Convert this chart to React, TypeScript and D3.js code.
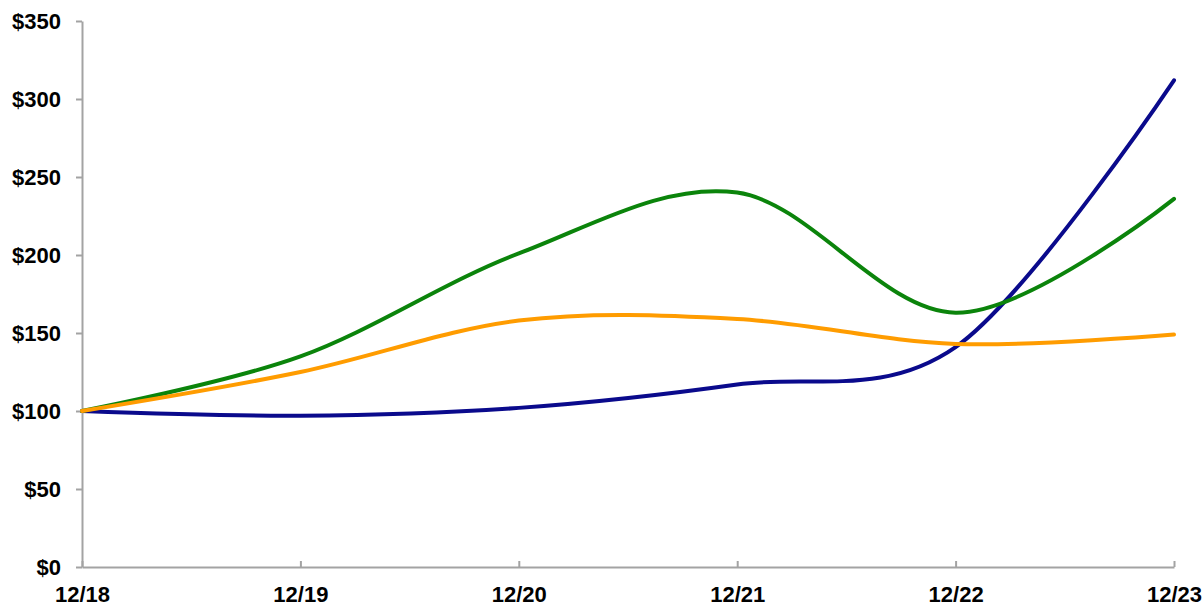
import { useRef, useEffect, useMemo } from "react";
import * as d3 from "d3";

const WIDTH = 1204;
const HEIGHT = 604;
const MARGIN = { top: 21, right: 30, bottom: 37, left: 82 };

const periods = ["12/18", "12/19", "12/20", "12/21", "12/22", "12/23"];
const yTicks = [0, 50, 100, 150, 200, 250, 300, 350];

const blueValues = [100, 97, 102, 117, 141, 312];
const greenValues = [100, 135, 201, 240, 163, 236];
const orangeValues = [100, 125, 158, 159, 143, 149];

const series = [
  { name: "blue", values: blueValues, color: "#0a0a8c" },
  { name: "green", values: greenValues, color: "#0b840b" },
  { name: "orange", values: orangeValues, color: "#ff9c00" },
];

const FONT = "'Liberation Sans', Arial, sans-serif";

const App = () => {
  const xAxisRef = useRef<SVGGElement | null>(null);
  const yAxisRef = useRef<SVGGElement | null>(null);

  const boundsWidth = WIDTH - MARGIN.left - MARGIN.right;
  const boundsHeight = HEIGHT - MARGIN.top - MARGIN.bottom;

  const xScale = useMemo(
    () => d3.scalePoint<string>().domain(periods).range([0, boundsWidth]),
    [boundsWidth]
  );

  const yScale = useMemo(
    () => d3.scaleLinear().domain([0, 350]).range([boundsHeight, 0]),
    [boundsHeight]
  );

  // axes drawn by d3
  useEffect(() => {
    const xg = d3.select(xAxisRef.current);
    xg.selectAll("*").remove();
    xg.call(
      d3.axisBottom(xScale).tickSizeInner(-6).tickSizeOuter(0).tickPadding(19)
    );

    const yg = d3.select(yAxisRef.current);
    yg.selectAll("*").remove();
    yg.call(
      d3
        .axisLeft(yScale)
        .tickValues(yTicks)
        .tickFormat((d) => "$" + d)
        .tickSizeInner(6)
        .tickSizeOuter(0)
        .tickPadding(15)
    );

    [xg, yg].forEach((g) => {
      g.selectAll("path, line").attr("stroke", "#a3a3a3").attr("stroke-width", 2);
      g.selectAll("text")
        .attr("fill", "#000")
        .style("font-family", FONT)
        .style("font-size", "22px")
        .style("font-weight", "bold");
    });
  }, [xScale, yScale]);

  const lineBuilder = d3
    .line<number>()
    .x((_, i) => xScale(periods[i]) ?? 0)
    .y((d) => yScale(d))
    .curve(d3.curveCardinal.tension(0));

  return (
    <div style={{ position: "absolute", left: 0, top: 0 }}>
      <svg width={WIDTH} height={HEIGHT} style={{ display: "block", background: "#fff" }}>
        <g transform={`translate(${MARGIN.left},${MARGIN.top})`}>
          <g ref={xAxisRef} transform={`translate(0,${boundsHeight})`} />
          <g ref={yAxisRef} />
          {series.map((s) => (
            <path
              key={s.name}
              d={lineBuilder(s.values) || ""}
              fill="none"
              stroke={s.color}
              strokeWidth={4}
              strokeLinecap="round"
              strokeLinejoin="round"
            />
          ))}
        </g>
      </svg>
    </div>
  );
};

export default App;
